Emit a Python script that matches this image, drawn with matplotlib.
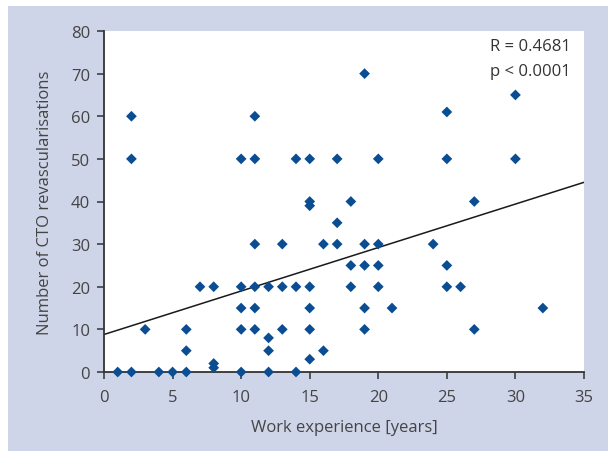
import matplotlib
matplotlib.use("Agg")
import matplotlib.pyplot as plt
from matplotlib.patches import Rectangle
import numpy as np

# data
experience = [1, 2, 2, 2, 3, 4, 5, 6, 6, 6, 7, 8, 8, 8,
              10, 10, 10, 10, 10,
              11, 11, 11, 11, 11, 11,
              12, 12, 12, 12,
              13, 13, 13,
              14, 14, 14,
              15, 15, 15, 15, 15, 15, 15,
              16, 16,
              17, 17, 17,
              18, 18, 18,
              19, 19, 19, 19, 19,
              20, 20, 20, 20,
              21, 24,
              25, 25, 25, 25,
              26, 27, 27, 30, 30, 32]
cto_count = [0, 0, 50, 60, 10, 0, 0, 0, 5, 10, 20, 20, 2, 1,
             0, 10, 15, 20, 50,
             10, 15, 20, 30, 50, 60,
             0, 5, 8, 20,
             10, 20, 30,
             0, 20, 50,
             3, 10, 15, 20, 39, 40, 50,
             5, 30,
             30, 35, 50,
             20, 25, 40,
             10, 15, 25, 30, 70,
             20, 25, 30, 50,
             15, 30,
             20, 25, 50, 61,
             20, 10, 40, 50, 65, 15]

# fitted line as drawn in the reference
fit_intercept = 8.8
fit_slope = 1.02
fit_x = [0, 35]

x_ticks = [0, 5, 10, 15, 20, 25, 30, 35]
y_ticks = [0, 10, 20, 30, 40, 50, 60, 70, 80]

plt.rcParams["font.family"] = ["Open Sans", "DejaVu Sans"]

fig = plt.figure(figsize=(6.08, 4.52), dpi=100)
fig.patch.set_facecolor("white")
fig.add_artist(Rectangle((8 / 608, 0), 1 - 8 / 608, 1 - 7 / 452,
                         transform=fig.transFigure, facecolor="#cfd5e8",
                         edgecolor="none", zorder=-10))

ax = fig.add_axes([104 / 608, 1 - 373 / 452, 480 / 608, 341 / 452])
ax.set_facecolor("white")

ax.scatter(experience, cto_count, marker="D", s=30, color="#0b4d92",
           edgecolors="none", zorder=3, clip_on=False)

line_y = [fit_intercept + fit_slope * v for v in fit_x]
ax.plot(fit_x, line_y, color="#1a1a1a", lw=1.1, zorder=2)

ax.set_xlim(0, 35)
ax.set_ylim(0, 80)
ax.set_xticks(x_ticks)
ax.set_yticks(y_ticks)

for side in ["top", "right"]:
    ax.spines[side].set_visible(False)
for side in ["left", "bottom"]:
    ax.spines[side].set_color("#333333")
    ax.spines[side].set_linewidth(1.3)
ax.tick_params(direction="out", length=5, width=1.1, color="#333333",
               labelsize=12, labelcolor="#444444")
ax.tick_params(axis="x", pad=7)
ax.tick_params(axis="y", pad=5)

ax.set_xlabel("Work experience [years]", fontsize=12, color="#444444", labelpad=10)
ax.set_ylabel("Number of CTO revascularisations", fontsize=12, color="#444444", labelpad=13)

ax.text(0.973, 0.957, "R = 0.4681", transform=ax.transAxes, ha="right",
        va="center", fontsize=12, color="#333333")
ax.text(0.973, 0.884, "p < 0.0001", transform=ax.transAxes, ha="right",
        va="center", fontsize=12, color="#333333")

fig.savefig("out.png", dpi=100)
